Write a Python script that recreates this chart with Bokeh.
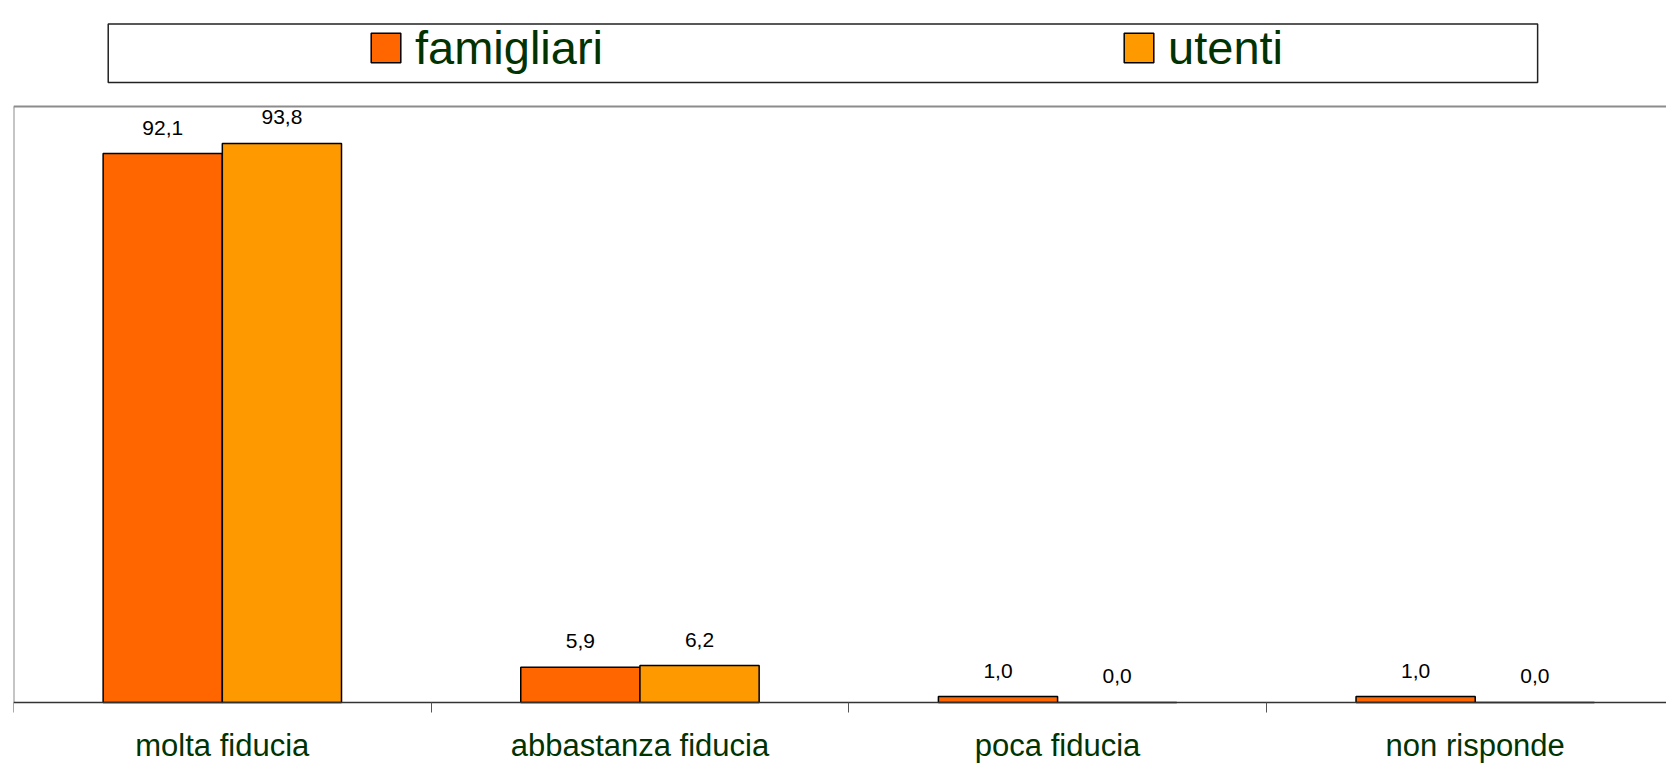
from bokeh.plotting import figure
from bokeh.models import (ColumnDataSource, Range1d, FixedTicker, LabelSet, Legend,
                          LegendItem, Span, BoxAnnotation)
from bokeh.core.properties import value
from bokeh.embed import file_html
from bokeh.resources import INLINE

# ---- data ----
categories = ["molta fiducia", "abbastanza fiducia", "poca fiducia", "non risponde"]
famigliari = [92.1, 5.9, 1.0, 1.0]
utenti = [93.8, 6.2, 0.0, 0.0]
series_names = ["famigliari", "utenti"]
series_colors = ["#FF6600", "#FF9900"]


def fmt(v):
    return f"{v:.1f}".replace(".", ",")


FONT = "Liberation Sans"
GREEN = "#003300"
BW = 0.2854
idx = list(range(len(categories)))

src_f = ColumnDataSource(dict(x=[i + 0.5 - BW / 2 for i in idx], top=famigliari,
                              label=[fmt(v) for v in famigliari]))
src_u = ColumnDataSource(dict(x=[i + 0.5 + BW / 2 for i in idx], top=utenti,
                              label=[fmt(v) for v in utenti]))

p = figure(width=1666, height=766, output_backend="svg", toolbar_location=None,
           x_range=Range1d(0, 3.958), y_range=Range1d(-10.74, 117.79),
           min_border_left=13, min_border_right=0, min_border_top=0, min_border_bottom=0)
p.outline_line_color = None
p.background_fill_color = "white"
p.border_fill_color = "white"
p.xgrid.visible = False
p.ygrid.visible = False
p.yaxis.visible = False

rf = p.vbar(x="x", top="top", bottom=0, width=BW, source=src_f,
            fill_color=series_colors[0], line_color="black", line_width=1.5)
ru = p.vbar(x="x", top="top", bottom=0, width=BW, source=src_u,
            fill_color=series_colors[1], line_color="black", line_width=1.5)

for src in (src_f, src_u):
    p.add_layout(LabelSet(x="x", y="top", text="label", source=src, y_offset=19,
                          text_align="center", text_baseline="alphabetic",
                          text_font_size="21px", text_font=value(FONT), text_color="black"))

# frame borders (top and left)
p.add_layout(Span(location=100, dimension="width", line_color="#8c8c8c", line_width=2))
p.segment(x0=[0], y0=[0], x1=[0], y1=[100], line_color="#8c8c8c", line_width=2)

# x axis at y=0: category names centred, ticks at category boundaries
ax = p.xaxis[0]
ax.fixed_location = 0
ax.ticker = FixedTicker(ticks=[i + 0.5 for i in idx],
                        minor_ticks=[float(i) for i in range(len(categories) + 1)])
ax.major_label_overrides = {i + 0.5: c for i, c in zip(idx, categories)}
ax.major_tick_out = 0
ax.major_tick_in = 0
ax.minor_tick_out = 10
ax.minor_tick_in = 0
ax.minor_tick_line_color = "#555555"
ax.axis_line_color = "#333333"
ax.axis_line_width = 1.5
ax.major_label_text_font_size = "31px"
ax.major_label_text_font = FONT
ax.major_label_text_color = GREEN
ax.major_label_standoff = 16

# legend box and legend
p.add_layout(BoxAnnotation(left=0.2268, right=3.6494, bottom=104.03, top=113.86,
                           fill_color=None, fill_alpha=0, line_color="#222222",
                           line_alpha=1, line_dash="solid", line_width=1.5))
legend = Legend(items=[LegendItem(label=series_names[0], renderers=[rf]),
                       LegendItem(label=series_names[1], renderers=[ru])],
                location=(354, 691), orientation="horizontal", spacing=517,
                padding=0, margin=0, glyph_width=37, glyph_height=37, label_standoff=11,
                label_text_font_size="47px", label_text_font=FONT, label_text_color=GREEN,
                border_line_color=None, background_fill_alpha=0)
p.add_layout(legend)

open("out.html", "w").write(file_html(p, INLINE))
